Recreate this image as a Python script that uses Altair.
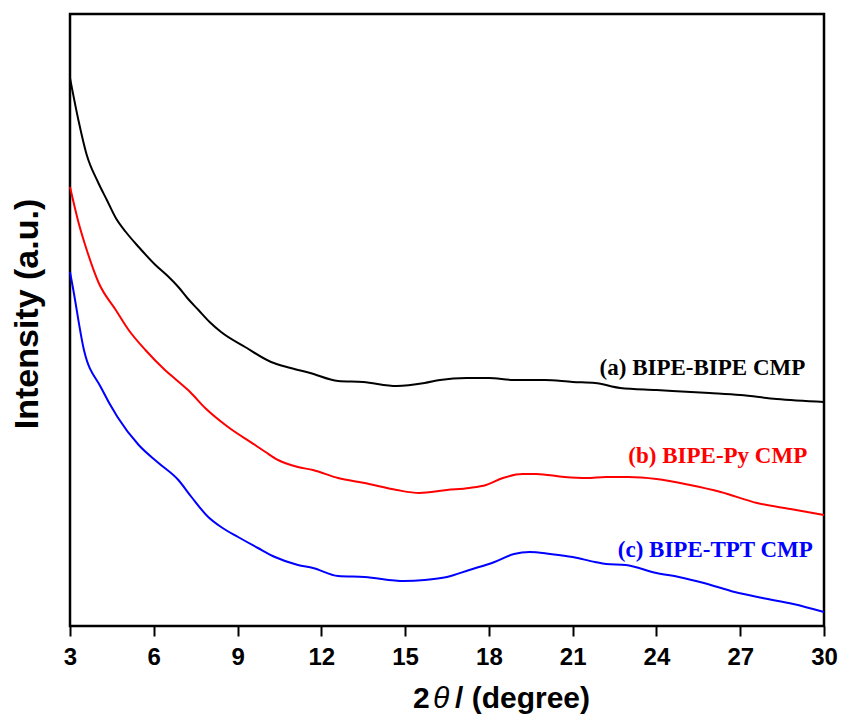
import altair as alt
import pandas as pd

# ---- data (2theta in degrees, intensity in a.u.) ----
black_x = [3.0, 3.3, 3.6, 4.0, 4.32, 4.64, 5.0, 5.46, 6.06, 6.5, 6.88, 7.2, 7.6, 8.0, 8.41,
           9.27, 10.2, 10.9, 11.6, 12.6, 13.5, 14.7, 15.7, 16.25, 17.2, 18.0, 18.9, 20.0,
           21.0, 21.8, 22.7, 24.0, 25.9, 27.0, 28.3, 30.0]
black_y = [548, 506, 471, 444, 426, 408, 394, 379, 361, 350, 339, 328, 316, 304, 294,
           279, 264, 258, 253, 245, 244, 240, 243, 246, 248, 248, 246, 246,
           244, 243, 238, 236, 233, 231, 227, 224]

red_x = [3.0, 3.3, 3.6, 4.03, 4.64, 5.1, 5.7, 6.4, 6.81, 7.3, 7.84, 8.66, 9.63, 10.0, 10.45,
         11.16, 11.7, 12.6, 13.55, 14.7, 15.5, 16.5, 17.3, 17.9, 18.5, 19.2, 19.7, 20.7,
         21.5, 22.2, 23.0, 24.0, 25.2, 26.3, 27.6, 28.8, 30.0]
red_y = [439, 404, 376, 343, 316, 296, 276, 256, 246, 234, 218, 199, 181, 174, 166,
         159, 156, 148, 143, 136, 133, 136, 138, 141, 148, 152, 152, 149,
         148, 149, 149, 147, 141, 134, 123, 117, 111]

blue_x = [3.0, 3.1, 3.5, 4.1, 4.7, 5.46, 6.17, 6.88, 7.35, 7.95, 8.41, 9.02, 9.73, 10.34,
          11.16, 11.7, 12.6, 13.55, 14.97, 15.7, 16.5, 17.3, 18.2, 18.9, 19.46, 20.2, 21.0,
          21.8, 22.2, 22.9, 24.0, 24.8, 25.7, 26.8, 27.8, 28.9, 30.0]
blue_y = [354, 339, 276, 239, 209, 181, 163, 146, 129, 109, 99, 89, 78, 69,
          61, 58, 50, 49, 45, 46, 49, 56, 64, 72, 74, 72, 69,
          64, 62, 61, 53, 49, 43, 34, 28, 22, 14]

series_names = ["(a) BIPE-BIPE CMP", "(b) BIPE-Py CMP", "(c) BIPE-TPT CMP"]
series_colors = ["#000000", "#ff0000", "#0000ff"]
label_x = [29.33, 29.4, 29.6]
label_y = [251, 163, 69]

x_ticks = [3, 6, 9, 12, 15, 18, 21, 24, 27, 30]
x_title_parts = ["2", "θ", "/ (degree)"]
y_title = "Intensity (a.u.)"

# ---- build tables ----
rows = []
for name, xs, ys in zip(series_names, [black_x, red_x, blue_x], [black_y, red_y, blue_y]):
    for i, (a, b) in enumerate(zip(xs, ys)):
        rows.append({"x": a, "y": b, "series": name, "order": i})
df = pd.DataFrame(rows)
labels_df = pd.DataFrame({"x": label_x, "y": label_y, "series": series_names})

color_scale = alt.Scale(domain=series_names, range=series_colors)
x_enc = alt.X("x:Q", scale=alt.Scale(domain=[3, 30], nice=False, zero=False),
              axis=alt.Axis(values=x_ticks, title=None, grid=False, domain=False,
                            labelFont="Liberation Sans", labelFontWeight="bold",
                            labelFontSize=24, labelColor="black", labelPadding=9,
                            labelFlush=False, tickColor="black", tickWidth=2, tickSize=10))
y_enc = alt.Y("y:Q", scale=alt.Scale(domain=[0, 612], nice=False, zero=False), axis=None)

lines = alt.Chart(df).mark_line(strokeWidth=2, interpolate="monotone").encode(
    x=x_enc, y=y_enc,
    color=alt.Color("series:N", scale=color_scale, legend=None),
    order="order:Q",
)

labels = alt.Chart(labels_df).mark_text(
    font="Liberation Serif", fontWeight="bold", fontSize=23, align="right", baseline="alphabetic"
).encode(
    x=alt.X("x:Q"), y=alt.Y("y:Q"), text="series:N",
    color=alt.Color("series:N", scale=color_scale, legend=None),
)

one = pd.DataFrame({"k": [0]})
t_2 = alt.Chart(one).mark_text(text=x_title_parts[0], font="Liberation Sans", fontWeight="bold",
                               fontSize=30, align="left", baseline="alphabetic", color="black"
                               ).encode(x=alt.value(343), y=alt.value(694))
t_theta = alt.Chart(one).mark_text(text=x_title_parts[1], font="Liberation Sans", fontStyle="italic",
                                   fontSize=30, align="left", baseline="alphabetic", color="black"
                                   ).encode(x=alt.value(363), y=alt.value(694))
t_rest = alt.Chart(one).mark_text(text=x_title_parts[2], font="Liberation Sans", fontWeight="bold",
                                  fontSize=30, align="left", baseline="alphabetic", color="black"
                                  ).encode(x=alt.value(385), y=alt.value(694))
t_y = alt.Chart(one).mark_text(text=y_title, font="Liberation Sans", fontWeight="bold",
                               fontSize=34, align="center", baseline="middle", angle=270,
                               color="black").encode(x=alt.value(-42), y=alt.value(300))

chart = alt.layer(lines, labels, t_2, t_theta, t_rest, t_y).properties(
    width=754, height=612,
    background="white",
    autosize=alt.AutoSizeParams(type="none"),
    padding={"left": 62, "top": 6, "right": 14, "bottom": 88},
).configure_view(stroke="black", strokeWidth=2.5)

chart.save("out.html", embed_options={"renderer": "svg", "actions": False})
